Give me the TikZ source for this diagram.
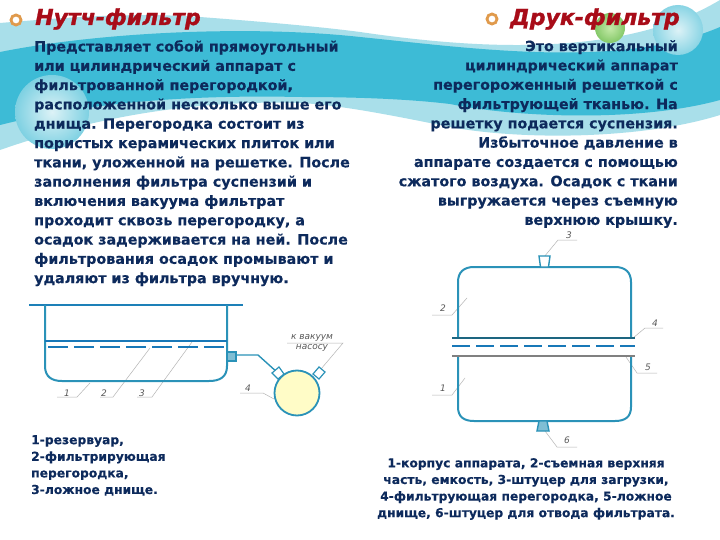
\documentclass[tikz,border=0pt]{standalone}
\usepackage{fontspec}
\setmainfont{DejaVu Sans}
\newfontfamily\titlefont[FakeBold=1.2]{DejaVu Sans Bold Oblique}
\newfontfamily\bodyfont[FakeBold=0.25]{DejaVu Sans Bold}
\definecolor{teal1}{HTML}{3DBBD6}
\definecolor{teal2}{HTML}{A9DFEA}
\definecolor{navy}{HTML}{0D2A5C}
\definecolor{ttl}{HTML}{A80C18}
\definecolor{ln}{HTML}{2A92B8}
\definecolor{lnb}{HTML}{1878B8}
\definecolor{lbl}{HTML}{B4B4B4}
\definecolor{ringc}{HTML}{E09A4C}
\definecolor{grn1}{HTML}{C4EAA8}
\definecolor{grn2}{HTML}{84C868}
\tikzset{
  bodytxt/.style={font=\bodyfont\fontsize{14.3}{19.3}\selectfont,text=navy,inner sep=0pt},
  legend/.style={font=\bodyfont\fontsize{12.3}{16.6}\selectfont,text=navy,inner sep=0pt},
  titletxt/.style={font=\titlefont\fontsize{22}{24}\selectfont,text=ttl,inner sep=0pt,anchor=west},
  wall/.style={draw=ln,line width=2pt},
  leader/.style={draw=lbl,line width=0.5pt},
  num/.style={font=\itshape\fontsize{9}{10}\selectfont,text=black!65,inner sep=0pt},
  bullet/.style={circle,draw=ringc,line width=2.8pt,fill=white,minimum size=10pt,inner sep=0pt}
}
\begin{document}
\begin{tikzpicture}[x=1pt,y=-1pt]
\useasboundingbox (0,0) rectangle (720,540);
\fill[white] (0,0) rectangle (720,540);
% light band
\fill[teal2] (0,23) .. controls (60,18) and (130,12) .. (200,17) .. controls (280,23) and (330,28) .. (360,32) .. controls (470,48) and (620,60) .. (720,0)
  -- (720,115) .. controls (640,140) and (520,140) .. (450,127) .. controls (390,115) and (340,105) .. (300,103) .. controls (200,100) and (100,115) .. (0,150) -- cycle;
% dark band
\fill[teal1] (0,52) .. controls (100,32) and (250,25) .. (360,37) .. controls (470,48) and (620,70) .. (720,27)
  -- (720,100) .. controls (640,122) and (520,118) .. (450,104) .. controls (400,98) and (340,97) .. (300,97) .. controls (200,95) and (100,100) .. (0,125) -- cycle;
% bubbles
\shade[inner color=white!60!teal2,outer color=teal2!60!teal1] (52,112) circle (37);
\shade[inner color=grn1,outer color=grn2] (610,28) circle (15);
\shade[inner color=teal2!40,outer color=teal2!70!teal1] (678,30) circle (25);
% titles
\node[bullet] (b1) at (16,20) {};
\node[titletxt] (t1) at (35,19) {Нутч-фильтр};
\node[bullet] (b2) at (492,19) {};
\node[titletxt] (t2) at (510,19) {Друк-фильтр};
% body
\node[bodytxt,anchor=north west,align=left] (leftbody) at (34,40) {Представляет собой прямоугольный\\или цилиндрический аппарат с\\фильтрованной перегородкой,\\расположенной несколько выше его\\днища. Перегородка состоит из\\пористых керамических плиток или\\ткани, уложенной на решетке. После\\заполнения фильтра суспензий и\\включения вакуума фильтрат\\проходит сквозь перегородку, а\\осадок задерживается на ней. После\\фильтрования осадок промывают и\\удаляют из фильтра вручную.};
\node[bodytxt,anchor=north east,align=right] (rightbody) at (678,40) {Это вертикальный\\цилиндрический аппарат\\перегороженный решеткой с\\фильтрующей тканью. На\\решетку подается суспензия.\\Избыточное давление в\\аппарате создается с помощью\\сжатого воздуха. Осадок с ткани\\выгружается через съемную\\верхнюю крышку.};
% legends
\node[legend,anchor=north west,align=left] (leg1) at (31,435) {1-резервуар,\\2-фильтрирующая\\перегородка,\\3-ложное днище.};
\node[legend,anchor=north,align=center] (leg2) at (526,458) {1-корпус аппарата, 2-съемная верхняя\\часть, емкость, 3-штуцер для загрузки,\\4-фильтрующая перегородка, 5-ложное\\днище, 6-штуцер для отвода фильтрата.};
% nutsch leaders
\node[num] (n1) at (67,393) {1};
\node[num] (n2) at (104,393) {2};
\node[num] (n3) at (142,393) {3};
\node[num] (n4) at (248,388) {4};
\draw[leader] (57,397) -- (77,397) -- (90,383);
\draw[leader] (100,397) -- (113,397) -- (150,348);
\draw[leader] (137,397) -- (152,397) -- (192,342);
\draw[leader] (240,393) -- (263,393) -- (274,399);
\node[num,align=center,font=\itshape\fontsize{9}{10}\selectfont] (vac) at (312,343) {к вакуум\\насосу};
\draw[leader] (287,343) -- (343,343) -- (321,369);
% Nutsch
\draw[draw=lnb!70!ln,line width=2.2pt] (29,305) -- (243,305);
\draw[wall] (45,305) -- (45,366) .. controls (45,377) and (52,381) .. (62,381) -- (209,381) .. controls (220,381) and (227,377) .. (227,366) -- (227,305);
\draw[draw=lnb,line width=2pt] (45,341) -- (227,341);
\draw[draw=lnb,line width=1.5pt,dash pattern=on 20pt off 6pt] (48,347) -- (224,347);
\draw[draw=ln,line width=1.2pt,fill=ln!60] (227,352) rectangle (236,361);
\coordinate (pipeA) at (236,355);
\coordinate (pipeB) at (258,355);
\coordinate (pipeC) at (278,373);
\draw[draw=ln,line width=1.4pt] (pipeA) -- (pipeB) -- (pipeC);
\node[circle,draw=ln,line width=1.8pt,fill=yellow!22,minimum size=45pt,inner sep=0pt] (flask) at (297,393) {};
\draw[draw=ln,line width=1.2pt,fill=white] (272,373) -- (279,367) -- (284,374) -- (278,379) -- cycle;
\draw[draw=ln,line width=1.2pt,fill=white] (313,374) -- (319,367) -- (325,372) -- (319,379) -- cycle;
% Druk leaders
\node[num] (d3) at (569,235) {3};
\node[num] (d2) at (443,308) {2};
\node[num] (d4) at (655,323) {4};
\node[num] (d5) at (648,367) {5};
\node[num] (d7) at (443,388) {1};
\node[num] (d6) at (567,440) {6};
\draw[leader] (577,240) -- (558,240) -- (544,257);
\draw[leader] (432,315) -- (452,315) -- (467,298);
\draw[leader] (663,328) -- (645,328) -- (633,338);
\draw[leader] (657,373) -- (637,373) -- (626,357);
\draw[leader] (432,395) -- (452,395) -- (465,378);
\draw[leader] (577,447) -- (557,447) -- (545,431);
% Druk
\draw[wall] (458,338) -- (458,282) .. controls (458,272) and (464,267) .. (474,267) -- (615,267) .. controls (625,267) and (631,272) .. (631,282) -- (631,338);
\draw[wall] (458,356) -- (458,407) .. controls (458,417) and (464,421) .. (474,421) -- (615,421) .. controls (625,421) and (631,417) .. (631,407) -- (631,356);
\draw[draw=ln!70!black,line width=1.6pt] (452,338) -- (635,338);
\draw[draw=lnb,line width=1.5pt,dash pattern=on 18pt off 6pt] (452,346) -- (635,346);
\draw[draw=gray,line width=1.4pt] (452,356) -- (635,356);
\draw[draw=ln,line width=1.4pt,fill=white] (539,256) -- (550,256) -- (548.5,267) -- (540.5,267) -- cycle;
\draw[draw=ln,line width=1.4pt,fill=ln!60] (539,421) -- (547,421) -- (549,431) -- (537,431) -- cycle;
\end{tikzpicture}
\end{document}
